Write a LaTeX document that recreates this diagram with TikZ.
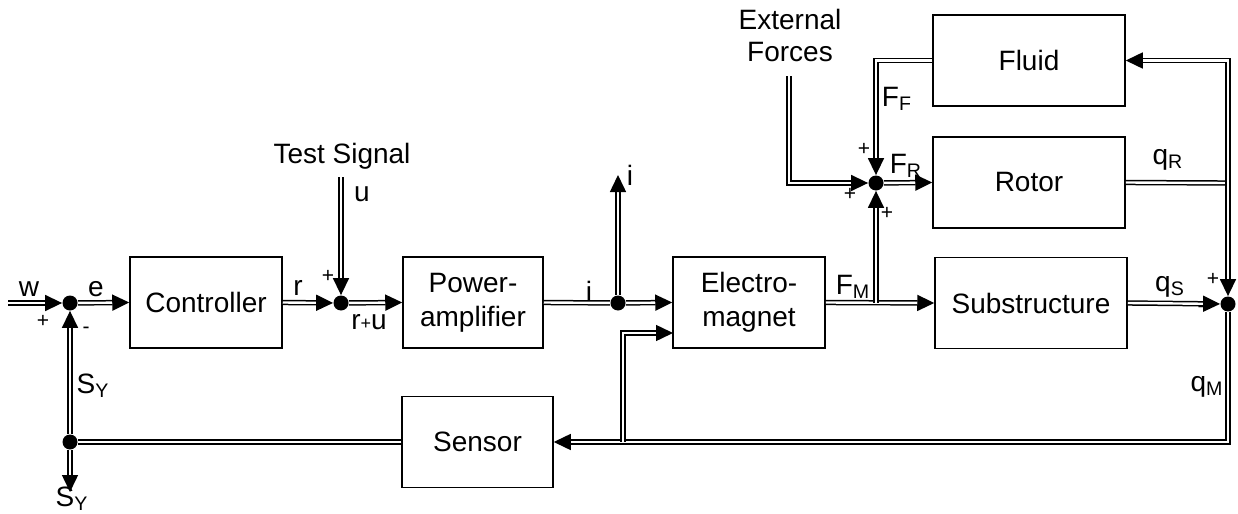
\documentclass[tikz,border=0pt]{standalone}
\usepackage{fontspec}
\setmainfont{Liberation Sans}
\usetikzlibrary{arrows.meta}
\begin{document}
\begin{tikzpicture}[x=0.5pt,y=-0.5pt,
  blk/.style={draw, line width=0.75pt, align=center, inner sep=0pt,
    minimum height=45.5pt, font=\fontsize{14}{17}\selectfont},
  sig/.style={double, line width=0.75pt, double distance=1.2pt},
  arr/.style={sig, -{Triangle[length=8.5pt,width=8pt]}},
  sumdot/.style={circle, fill, inner sep=0pt, minimum size=7.5pt},
  lbl/.style={inner sep=0pt, align=center, font=\fontsize{14}{17}\selectfont},
  sgn/.style={inner sep=0pt, font=\fontsize{10.5}{11}\selectfont}]
\useasboundingbox (0,0) rectangle (1238,514);

% blocks
\node[blk, minimum width=76pt] (ctrl) at (206,302.5) {Controller};
\node[blk, minimum width=70pt] (pa) at (473,302.5) {Power-\\amplifier};
\node[blk, minimum width=76pt] (em) at (749,302.5) {Electro-\\magnet};
\node[blk, minimum width=96pt] (sub) at (1031,303) {Substructure};
\node[blk, minimum width=96pt] (rot) at (1029,182.5) {Rotor};
\node[blk, minimum width=96pt] (fluid) at (1029,60.5) {Fluid};
\node[blk, minimum width=75.5pt] (sens) at (477.5,442) {Sensor};

% summing points and junctions
\node[sumdot] (s1) at (70,303) {};
\node[sumdot] (s2) at (341,303) {};
\node[sumdot] (b1) at (618,303) {};
\node[sumdot] (s4) at (876,183) {};
\node[sumdot] (s5) at (1228,304) {};
\node[sumdot] (s6) at (70,442) {};

\coordinate (win) at (8,303);
\coordinate (tsin) at (341,177);
\coordinate (iout) at (618,175);
\coordinate (fmj) at (876,303);
\coordinate (ext) at (789,76);
\coordinate (qrj) at (1228,183);
\coordinate (emtap) at (623,442);
\coordinate (emin) at (673,333);
\coordinate (syout) at (70,492);

% connectors
\draw[arr] (win) -- (s1);
\draw[arr] (s1) -- (ctrl.west);
\draw[arr] (ctrl.east) -- (s2);
\draw[arr] (tsin) -- (s2);
\draw[arr] (s2) -- (pa.west);
\draw[sig] (pa.east) -- (b1);
\draw[arr] (b1) -- (em.west);
\draw[arr] (b1) -- (iout);
\draw[arr] (em.east) -- (sub.west);
\draw[arr] (fmj) -- (s4);
\draw[arr] (fluid.west) -| (s4);
\draw[arr] (ext) |- (s4);
\draw[arr] (s4) -- (rot.west);
\draw[sig] (rot.east) -- (qrj);
\draw[arr] (qrj) |- (fluid.east);
\draw[arr] (qrj) -- (s5);
\draw[arr] (sub.east) -- (s5);
\draw[arr] (s5) |- (sens.east);
\draw[arr] (emtap) |- (emin);
\draw[sig] (sens.west) -- (s6);
\draw[arr] (s6) -- (s1);
\draw[arr] (s6) -- (syout);

% labels
\node[lbl] (lw) at (29,289) {w};
\node[sgn] (p1) at (43,321) {+};
\node[sgn] (m1) at (86,330) {-};
\node[lbl] (le) at (96,289) {e};
\node[lbl] (lr) at (298,288) {r};
\node[sgn] (p2) at (328,276) {+};
\node[lbl] (lu) at (362,194) {u};
\node[lbl] (lts) at (342,156) {Test Signal};
\node[lbl] (lru) at (369,322) {r{\fontsize{9}{9}\selectfont +}u};
\node[lbl] (li1) at (630,175) {i};
\node[lbl] (li2) at (589,291) {i};
\node[lbl] (lext) at (790,35) {External\\[-1pt]Forces};
\node[lbl] (lfm) at (853,287) {F\textsubscript{M}};
\node[lbl] (lff) at (897,99) {F\textsubscript{F}};
\node[lbl] (lfr) at (906,166) {F\textsubscript{R}};
\node[sgn] (p3) at (864,149) {+};
\node[sgn] (p4) at (850,194) {+};
\node[sgn] (p5) at (887,213) {+};
\node[lbl] (lqr) at (1168,160) {q\textsubscript{R}};
\node[lbl] (lqs) at (1170,287) {q\textsubscript{S}};
\node[sgn] (p6) at (1213,279) {+};
\node[sgn] (m2) at (1201,309) {-};
\node[lbl] (lqm) at (1207,387) {q\textsubscript{M}};
\node[lbl] (lsy1) at (93,386) {S\textsubscript{Y}};
\node[lbl] (lsy2) at (72,499) {S\textsubscript{Y}};
\end{tikzpicture}
\end{document}
